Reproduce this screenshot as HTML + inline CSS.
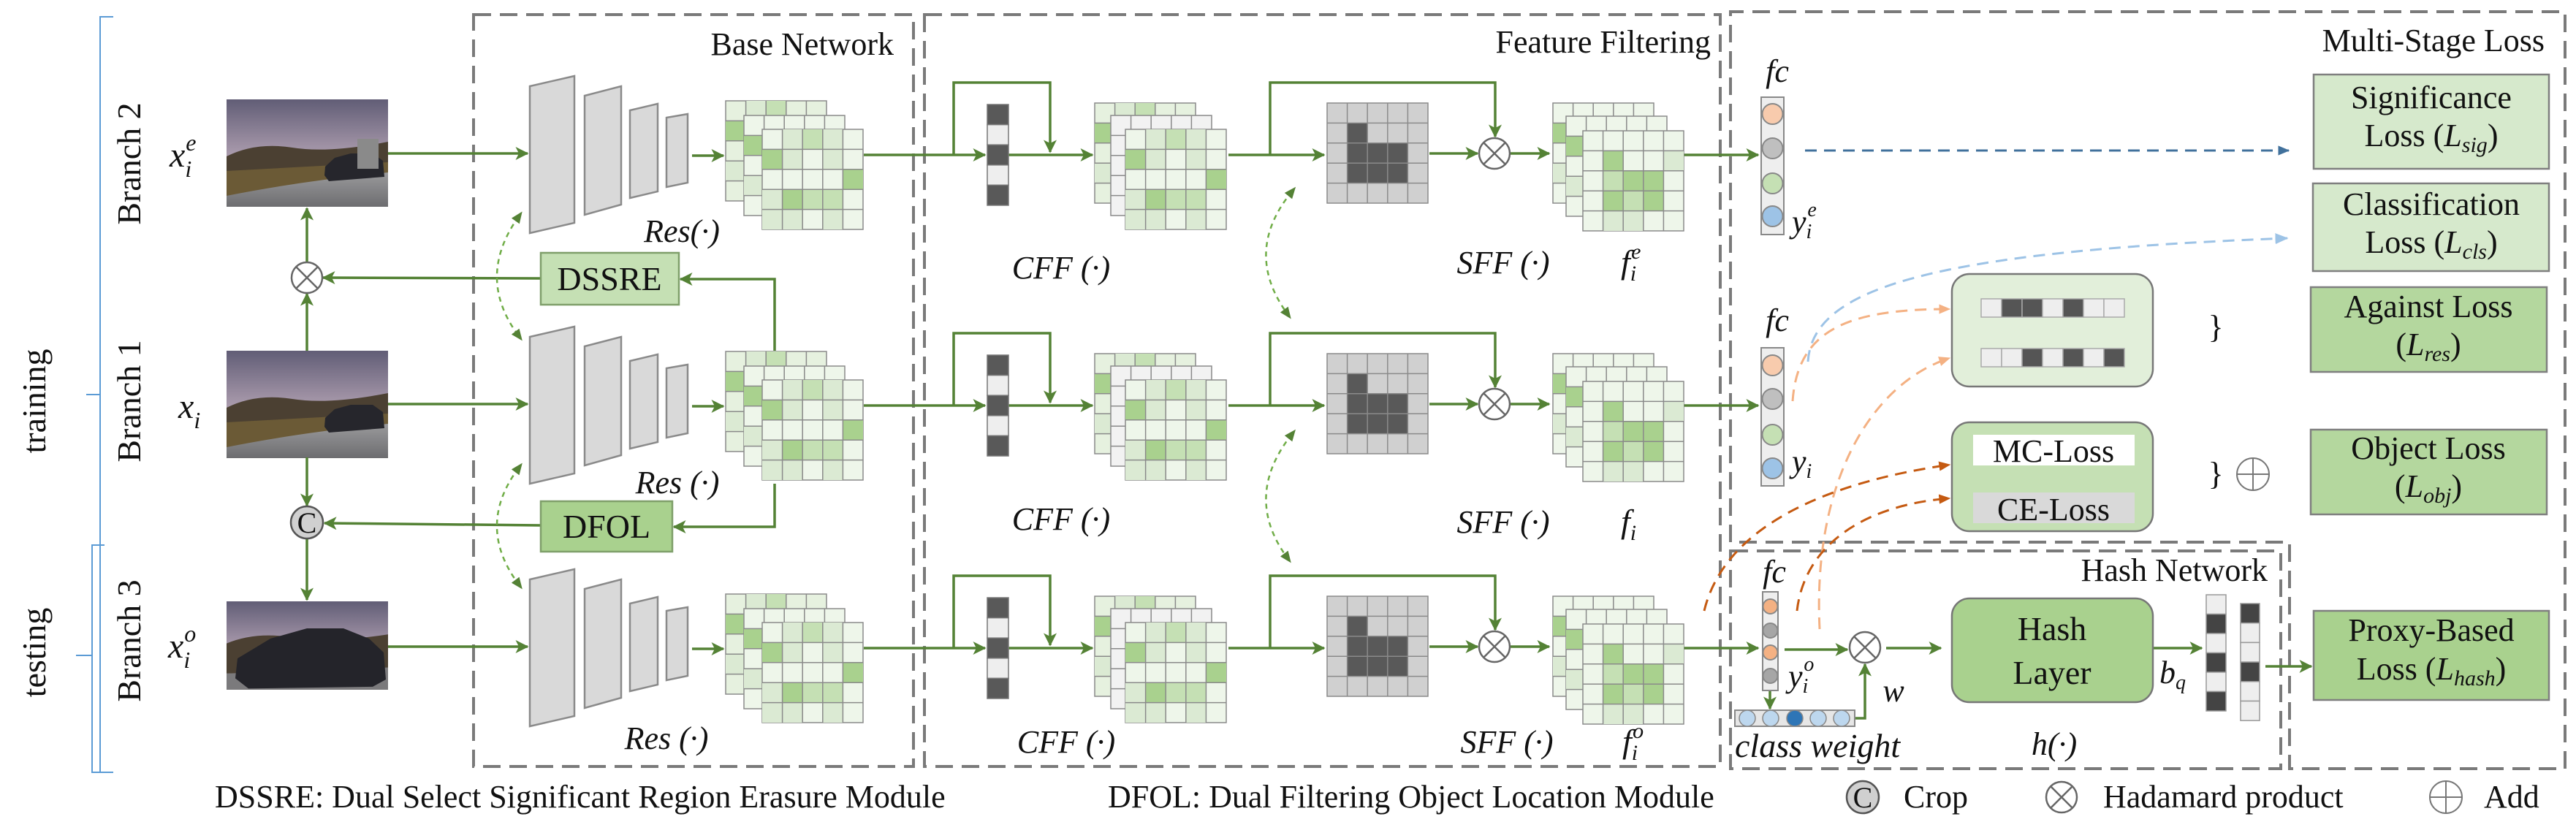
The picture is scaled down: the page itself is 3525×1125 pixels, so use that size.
<!DOCTYPE html>
<html><head><meta charset="utf-8"><style>
html,body{margin:0;padding:0;background:#fff}
svg{display:block;font-family:"Liberation Serif","Times New Roman",Times,serif}
svg text{font-family:"Liberation Serif","Times New Roman",Times,serif;fill:#111}
.it{font-style:italic}
</style></head><body>
<svg width="3525" height="1125" viewBox="0 0 3525 1125" xmlns="http://www.w3.org/2000/svg" font-family="Liberation Serif, Times New Roman, serif">
<defs>
<marker id="agl" viewBox="0 0 12 12" refX="11" refY="6" markerWidth="18" markerHeight="18" markerUnits="userSpaceOnUse" orient="auto"><path d="M0,0 L12,6 L0,12 L3,6z" fill="#548235"/></marker>
<marker id="ab" viewBox="0 0 12 12" refX="11" refY="6" markerWidth="16" markerHeight="16" markerUnits="userSpaceOnUse" orient="auto"><path d="M0,1 L12,6 L0,11z" fill="#41719c"/></marker>
<marker id="alb" viewBox="0 0 12 12" refX="11" refY="6" markerWidth="18" markerHeight="18" markerUnits="userSpaceOnUse" orient="auto"><path d="M0,1 L12,6 L0,11z" fill="#9dc3e6"/></marker>
<marker id="ao" viewBox="0 0 12 12" refX="11" refY="6" markerWidth="16" markerHeight="16" markerUnits="userSpaceOnUse" orient="auto"><path d="M0,1 L12,6 L0,11z" fill="#f4b183"/></marker>
<marker id="ado" viewBox="0 0 12 12" refX="11" refY="6" markerWidth="16" markerHeight="16" markerUnits="userSpaceOnUse" orient="auto"><path d="M0,1 L12,6 L0,11z" fill="#c55a11"/></marker>
<marker id="agd" viewBox="0 0 12 12" refX="6" refY="6" markerWidth="16" markerHeight="16" markerUnits="userSpaceOnUse" orient="auto-start-reverse"><path d="M0,1 L12,6 L0,11z" fill="#548235"/></marker>

<path id="gl" d="M27.6,0V137M55.2,0V137M82.8,0V137M110.4,0V137M0,27.4H138M0,54.8H138M0,82.2H138M0,109.6H138" stroke="#8a8a8a" stroke-width="1.5" fill="none"/>

<g id="gBackG"><rect width="138" height="137" fill="#e6f1df" stroke="#8a8a8a" stroke-width="1.5"/>
<rect x="27.6" y="0" width="27.6" height="27.4" fill="#dbead3"/><rect x="55.2" y="0" width="27.6" height="27.4" fill="#c5e0b4"/><rect x="0" y="27.4" width="27.6" height="27.4" fill="#a9d18e"/><rect x="0" y="82.2" width="27.6" height="27.4" fill="#dbead3"/><use href="#gl"/></g>
<g id="gMidG"><rect width="138" height="137" fill="#eef6ea" stroke="#8a8a8a" stroke-width="1.5"/><rect x="0" y="27.4" width="27.6" height="27.4" fill="#a9d18e"/><rect x="0" y="82.2" width="27.6" height="27.4" fill="#dbead3"/><use href="#gl"/></g>
<g id="gMidW"><rect width="138" height="137" fill="#f2f2f2" stroke="#8a8a8a" stroke-width="1.5"/><use href="#gl"/></g>
<g id="gFront"><rect width="138" height="137" fill="#eef6ea" stroke="#8a8a8a" stroke-width="1.5"/>
<rect x="27.6" y="0" width="27.6" height="27.4" fill="#dbead3"/><rect x="55.2" y="0" width="27.6" height="27.4" fill="#c5e0b4"/><rect x="82.8" y="0" width="27.6" height="27.4" fill="#dbead3"/>
<rect x="0" y="27.4" width="27.6" height="27.4" fill="#a9d18e"/><rect x="27.6" y="27.4" width="27.6" height="27.4" fill="#dbead3"/><rect x="82.8" y="27.4" width="27.6" height="27.4" fill="#dbead3"/>
<rect x="110.4" y="54.8" width="27.6" height="27.4" fill="#a9d18e"/>
<rect x="0" y="82.2" width="27.6" height="27.4" fill="#dbead3"/><rect x="27.6" y="82.2" width="27.6" height="27.4" fill="#a9d18e"/><rect x="55.2" y="82.2" width="27.6" height="27.4" fill="#c5e0b4"/><rect x="82.8" y="82.2" width="27.6" height="27.4" fill="#c5e0b4"/>
<rect x="0" y="109.6" width="27.6" height="27.4" fill="#dbead3"/><rect x="27.6" y="109.6" width="27.6" height="27.4" fill="#dbead3"/><rect x="82.8" y="109.6" width="27.6" height="27.4" fill="#dbead3"/>
<use href="#gl"/></g>
<g id="gOut"><rect width="138" height="137" fill="#eef6ea" stroke="#8a8a8a" stroke-width="1.5"/>
<rect x="27.6" y="27.4" width="27.6" height="27.4" fill="#a9d18e"/><rect x="110.4" y="27.4" width="27.6" height="27.4" fill="#dbead3"/>
<rect x="27.6" y="54.8" width="27.6" height="27.4" fill="#c5e0b4"/><rect x="55.2" y="54.8" width="55.2" height="27.4" fill="#a9d18e"/>
<rect x="27.6" y="82.2" width="27.6" height="27.4" fill="#a9d18e"/><rect x="55.2" y="82.2" width="27.6" height="27.4" fill="#c5e0b4"/><rect x="82.8" y="82.2" width="27.6" height="27.4" fill="#a9d18e"/>
<rect x="27.6" y="109.6" width="55.2" height="27.4" fill="#dbead3"/>
<use href="#gl"/></g>
<g id="gMask"><rect width="138" height="137" fill="#d0d0d0" stroke="#8a8a8a" stroke-width="1.5"/>
<rect x="27.6" y="27.4" width="27.6" height="27.4" fill="#595959"/><rect x="27.6" y="54.8" width="82.8" height="54.8" fill="#595959"/>
<use href="#gl"/></g>

<g id="otimes"><circle r="21" fill="#fff" stroke="#666" stroke-width="2.5"/><path d="M-14.8,-14.8L14.8,14.8M14.8,-14.8L-14.8,14.8" stroke="#666" stroke-width="2.5"/></g>

<g id="row">
<line x1="531" y1="210" x2="722" y2="210" stroke="#548235" stroke-width="3.5" marker-end="url(#agl)"/>
<g fill="#d9d9d9" stroke="#8a8a8a" stroke-width="2.5">
<polygon points="725,118 786,104 786,305 725,319"/>
<polygon points="800,131 850,118 850,280 800,294"/>
<polygon points="862,151 900,142 900,262 862,271"/>
<polygon points="912,161 941,156 941,250 912,256"/>
</g>
<line x1="947" y1="213" x2="990" y2="213" stroke="#548235" stroke-width="3.5" marker-end="url(#agl)"/>
<use href="#gBackG" x="993" y="138"/><use href="#gMidG" x="1018" y="158"/><use href="#gFront" x="1043" y="177"/>
<g stroke="#548235" stroke-width="3.5" fill="none">
<line x1="1182" y1="212" x2="1348" y2="212" marker-end="url(#agl)"/>
<polyline points="1305,212 1305,113 1437,113 1437,208" marker-end="url(#agl)"/>
<line x1="1380" y1="212" x2="1495" y2="212" marker-end="url(#agl)"/>
<line x1="1681" y1="212" x2="1812" y2="212" marker-end="url(#agl)"/>
<polyline points="1738,212 1738,113 2046,113 2046,187" marker-end="url(#agl)"/>
<line x1="1956" y1="210" x2="2022" y2="210" marker-end="url(#agl)"/>
<line x1="2067" y1="210" x2="2120" y2="210" marker-end="url(#agl)"/>
<line x1="2303" y1="212" x2="2406" y2="212" marker-end="url(#agl)"/>
</g>
<g stroke="#777" stroke-width="1.5"><rect x="1351" y="143" width="29" height="27.6" fill="#595959"/><rect x="1351" y="170.6" width="29" height="27.6" fill="#eeeeee"/><rect x="1351" y="198.2" width="29" height="27.6" fill="#595959"/><rect x="1351" y="225.8" width="29" height="27.6" fill="#eeeeee"/><rect x="1351" y="253.4" width="29" height="27.6" fill="#595959"/></g>
<use href="#gBackG" x="1498" y="141"/><use href="#gMidW" x="1520" y="158"/><use href="#gFront" x="1540" y="177"/>
<use href="#gMask" x="1816" y="141"/>
<use href="#otimes" x="2045" y="210"/>
<use href="#gMidG" x="2125" y="141"/><use href="#gMidG" x="2143" y="159"/><use href="#gOut" x="2166" y="179"/>
</g>

<linearGradient id="sky" x1="0" y1="0" x2="0" y2="1"><stop offset="0" stop-color="#615d76"/><stop offset="0.5" stop-color="#a899ab"/><stop offset="1" stop-color="#b9aab5"/></linearGradient>
<linearGradient id="road" x1="0" y1="0" x2="0" y2="1"><stop offset="0" stop-color="#9a9a9c"/><stop offset="1" stop-color="#6d6d70"/></linearGradient>
<g id="photo">
<rect width="221" height="147" fill="url(#sky)"/>
<path d="M0,78 Q40,58 90,66 T221,58 L221,110 L0,112z" fill="#4b4032"/>
<path d="M0,98 L221,86 L221,112 L0,140z" fill="#6b5a36"/>
<path d="M0,147 L0,132 Q100,112 221,100 L221,147z" fill="url(#road)"/>
<path d="M135,92 L148,80 L170,74 L200,74 L214,84 L216,106 L140,112 L134,104z" fill="#26262c"/>
</g>
</defs>

<!-- braces -->
<path d="M155,23 H137 V1057 H155 M137,540 H118" stroke="#5b9bd5" stroke-width="2" fill="none"/>
<path d="M143,746 H126 V1057 H143 M126,897 H104" stroke="#5b9bd5" stroke-width="2" fill="none"/>
<text font-size="46" transform="translate(62,549) rotate(-90)" text-anchor="middle">training</text>
<text font-size="46" transform="translate(62,893) rotate(-90)" text-anchor="middle">testing</text>
<text font-size="46" transform="translate(192,224) rotate(-90)" text-anchor="middle">Branch 2</text>
<text font-size="46" transform="translate(192,549) rotate(-90)" text-anchor="middle">Branch 1</text>
<text font-size="46" transform="translate(192,877) rotate(-90)" text-anchor="middle">Branch 3</text>

<!-- dashed boxes -->
<g stroke="#7a7a7a" stroke-width="4" stroke-dasharray="24 12" fill="none">
<rect x="648" y="20" width="602" height="1029"/>
<rect x="1265" y="20" width="1089" height="1029"/>
<path d="M2368,742 V16 H3510 V1052 H3133 V742 H2368"/>
<rect x="2368" y="754" width="753" height="298"/>
</g>
<text font-size="44" x="1223" y="75" text-anchor="end">Base Network</text>
<text font-size="44" x="2341" y="72" text-anchor="end">Feature Filtering</text>
<text font-size="44" x="3482" y="70" text-anchor="end">Multi-Stage Loss</text>

<!-- photos -->
<use href="#photo" x="310" y="136"/>
<rect x="489" y="190" width="29" height="41" fill="#8a8a8a"/>
<use href="#photo" x="310" y="480"/>
<g transform="translate(310,823) scale(1,0.823)">
<rect width="221" height="147" fill="url(#sky)"/>
<path d="M0,70 Q40,50 90,60 T221,55 L221,120 L0,120z" fill="#4b4032"/>
<path d="M0,147 L0,120 L221,110 L221,147z" fill="#7b7a7c"/>
<path d="M15,95 L60,62 L110,45 L160,45 L195,62 L215,85 L218,130 L200,142 L30,145 L12,128z" fill="#24242a"/>
</g>
<text class="it" font-size="48" x="232" y="228">x<tspan font-size="32" dy="14">i</tspan><tspan font-size="32" dx="-8" dy="-36">e</tspan></text>
<text class="it" font-size="48" x="244" y="572">x<tspan font-size="32" dy="14">i</tspan></text>
<text class="it" font-size="48" x="230" y="900">x<tspan font-size="32" dy="14">i</tspan><tspan font-size="32" dx="-8" dy="-36">o</tspan></text>

<!-- rows -->
<use href="#row"/>
<use href="#row" y="343"/>
<use href="#row" y="675"/>

<!-- branch vertical flows -->
<g stroke="#548235" stroke-width="3.5" fill="none">
<line x1="420" y1="480" x2="420" y2="402" marker-end="url(#agl)"/>
<line x1="420" y1="359" x2="420" y2="285" marker-end="url(#agl)"/>
<line x1="420" y1="626" x2="420" y2="692" marker-end="url(#agl)"/>
<line x1="420" y1="738" x2="420" y2="821" marker-end="url(#agl)"/>
<line x1="740" y1="381" x2="442" y2="380" marker-end="url(#agl)"/>
<line x1="740" y1="719" x2="444" y2="716" marker-end="url(#agl)"/>
<polyline points="1060,480 1060,382 931,382" marker-end="url(#agl)"/>
<polyline points="1060,662 1060,721 922,721" marker-end="url(#agl)"/>
</g>
<use href="#otimes" x="420" y="380"/>
<circle cx="420" cy="715" r="22" fill="#d0d0d0" stroke="#555" stroke-width="2.5"/>
<text font-size="40" x="420" y="729" text-anchor="middle">C</text>
<rect x="740" y="346" width="189" height="71" fill="#c5e0b4" stroke="#7f9f6a" stroke-width="2.5"/>
<text font-size="46" x="834" y="397" text-anchor="middle">DSSRE</text>
<rect x="740" y="686" width="180" height="69" fill="#a9d18e" stroke="#7f9f6a" stroke-width="2.5"/>
<text font-size="46" x="830" y="736" text-anchor="middle">DFOL</text>

<!-- dotted curved arrows -->
<g stroke="#70ad47" stroke-width="2.5" stroke-dasharray="7 6" fill="none">
<path d="M710,296 Q650,380 710,460" marker-start="url(#agd)" marker-end="url(#agd)"/>
<path d="M710,640 Q650,720 710,800" marker-start="url(#agd)" marker-end="url(#agd)"/>
<path d="M1768,262 Q1700,345 1762,430" marker-start="url(#agd)" marker-end="url(#agd)"/>
<path d="M1768,594 Q1700,680 1762,764" marker-start="url(#agd)" marker-end="url(#agd)"/>
</g>

<!-- row labels -->
<g font-size="44" text-anchor="middle" font-style="italic">
<text x="933" y="331" class="it">Res(·)</text>
<text x="927" y="675" class="it">Res (·)</text>
<text x="912" y="1025" class="it">Res (·)</text>
<text x="1452" y="381" class="it">CFF (·)</text>
<text x="1452" y="725" class="it">CFF (·)</text>
<text x="1459" y="1030" class="it">CFF (·)</text>
<text x="2057" y="374" class="it">SFF (·)</text>
<text x="2057" y="729" class="it">SFF (·)</text>
<text x="2062" y="1030" class="it">SFF (·)</text>
</g>
<text class="it" font-size="46" x="2218" y="374">f<tspan font-size="30" dy="10">i</tspan><tspan font-size="30" dx="-7" dy="-30">e</tspan></text>
<text class="it" font-size="46" x="2218" y="729">f<tspan font-size="30" dy="10">i</tspan></text>
<text class="it" font-size="46" x="2220" y="1030">f<tspan font-size="30" dy="10">i</tspan><tspan font-size="30" dx="-7" dy="-30">o</tspan></text>

<!-- fc columns -->
<text class="it" font-size="44" x="2432" y="112" text-anchor="middle">fc</text>
<rect x="2410" y="133" width="31" height="188" fill="#eeeeee" stroke="#888" stroke-width="2"/>
<g stroke="#888" stroke-width="2"><circle cx="2425.5" cy="156" r="14" fill="#f8cbad"/><circle cx="2425.5" cy="203" r="14" fill="#bfbfbf"/><circle cx="2425.5" cy="251" r="14" fill="#c5e0b4"/><circle cx="2425.5" cy="296" r="14" fill="#9dc3e6"/></g>
<text class="it" font-size="44" x="2452" y="318">y<tspan font-size="28" dy="8">i</tspan><tspan font-size="28" dx="-6" dy="-30">e</tspan></text>
<text class="it" font-size="44" x="2432" y="453" text-anchor="middle">fc</text>
<rect x="2410" y="476" width="31" height="189" fill="#eeeeee" stroke="#888" stroke-width="2"/>
<g stroke="#888" stroke-width="2"><circle cx="2425.5" cy="500" r="14" fill="#f8cbad"/><circle cx="2425.5" cy="546" r="14" fill="#bfbfbf"/><circle cx="2425.5" cy="595" r="14" fill="#c5e0b4"/><circle cx="2425.5" cy="641" r="14" fill="#9dc3e6"/></g>
<text class="it" font-size="44" x="2452" y="646">y<tspan font-size="28" dy="8">i</tspan></text>

<!-- loss boxes -->
<g stroke="#7f7f7f" stroke-width="2.5">
<rect x="3166" y="102" width="322" height="129" fill="#d6e9cc"/>
<rect x="3165" y="251" width="323" height="120" fill="#d6e9cc"/>
<rect x="3162" y="393" width="323" height="116" fill="#b4d79e"/>
<rect x="3162" y="588" width="323" height="116" fill="#b4d79e"/>
<rect x="3166" y="836" width="322" height="122" fill="#a9d18e"/>
</g>
<g font-size="44" text-anchor="middle">
<text x="3327" y="148">Significance</text>
<text x="3327" y="200">Loss (<tspan class="it">L</tspan><tspan class="it" font-size="30" dy="8">sig</tspan><tspan dy="-8">)</tspan></text>
<text x="3327" y="294">Classification</text>
<text x="3327" y="346">Loss (<tspan class="it">L</tspan><tspan class="it" font-size="30" dy="8">cls</tspan><tspan dy="-8">)</tspan></text>
<text x="3323" y="434">Against Loss</text>
<text x="3323" y="486">(<tspan class="it">L</tspan><tspan class="it" font-size="30" dy="8">res</tspan><tspan dy="-8">)</tspan></text>
<text x="3323" y="628">Object Loss</text>
<text x="3323" y="680">(<tspan class="it">L</tspan><tspan class="it" font-size="30" dy="8">obj</tspan><tspan dy="-8">)</tspan></text>
<text x="3327" y="877">Proxy-Based</text>
<text x="3327" y="930">Loss (<tspan class="it">L</tspan><tspan class="it" font-size="30" dy="8">hash</tspan><tspan dy="-8">)</tspan></text>
</g>

<!-- middle loss modules -->
<rect x="2671" y="375" width="275" height="154" rx="24" fill="#e2efda" stroke="#777" stroke-width="2.5"/>
<g stroke="#aaa" stroke-width="1.5">
<rect x="2711" y="409" width="28" height="25" fill="#eee"/><rect x="2739" y="409" width="28" height="25" fill="#555"/><rect x="2767" y="409" width="28" height="25" fill="#555"/><rect x="2795" y="409" width="28" height="25" fill="#eee"/><rect x="2823" y="409" width="28" height="25" fill="#555"/><rect x="2851" y="409" width="28" height="25" fill="#eee"/><rect x="2879" y="409" width="28" height="25" fill="#eee"/>
<rect x="2711" y="477" width="28" height="25" fill="#eee"/><rect x="2739" y="477" width="28" height="25" fill="#eee"/><rect x="2767" y="477" width="28" height="25" fill="#555"/><rect x="2795" y="477" width="28" height="25" fill="#eee"/><rect x="2823" y="477" width="28" height="25" fill="#555"/><rect x="2851" y="477" width="28" height="25" fill="#eee"/><rect x="2879" y="477" width="28" height="25" fill="#555"/>
</g>
<rect x="2671" y="578" width="275" height="149" rx="24" fill="#c5e0b4" stroke="#777" stroke-width="2.5"/>
<rect x="2700" y="595" width="221" height="42" fill="#fff"/>
<rect x="2700" y="674" width="221" height="42" fill="#d9d9d9"/>
<text font-size="44" x="2810" y="632" text-anchor="middle">MC-Loss</text>
<text font-size="44" x="2810" y="712" text-anchor="middle">CE-Loss</text>
<text font-size="44" x="3032" y="462" text-anchor="middle">}</text>
<text font-size="44" x="3032" y="663" text-anchor="middle">}</text>
<g stroke="#777" stroke-width="2" fill="none"><circle cx="3083" cy="649" r="22"/><path d="M3061,649H3105M3083,627V671"/></g>

<!-- dashed loss connectors -->
<g fill="none" stroke-width="3" stroke-dasharray="16 10">
<line x1="2470" y1="206" x2="3132" y2="206" stroke="#41719c" marker-end="url(#ab)"/>
<path d="M2474,495 C2480,400 2620,345 3130,326" stroke="#9dc3e6" marker-end="url(#alb)"/>
<path d="M2453,549 C2460,450 2530,423 2668,423" stroke="#f4b183" marker-end="url(#ao)"/>
<path d="M2490,861 C2480,660 2560,525 2668,490" stroke="#f4b183" marker-end="url(#ao)"/>
<path d="M2332,836 C2360,720 2500,660 2668,636" stroke="#c55a11" marker-end="url(#ado)"/>
<path d="M2459,836 C2470,740 2560,690 2668,682" stroke="#c55a11" marker-end="url(#ado)"/>
</g>

<!-- hash network -->
<text font-size="44" x="3103" y="795" text-anchor="end">Hash Network</text>
<text class="it" font-size="44" x="2428" y="797" text-anchor="middle">fc</text>
<rect x="2412" y="810" width="21" height="135" fill="#eeeeee" stroke="#888" stroke-width="2"/>
<g stroke="#888" stroke-width="2"><circle cx="2422.5" cy="830" r="10" fill="#f4b183"/><circle cx="2422.5" cy="863" r="10" fill="#a6a6a6"/><circle cx="2422.5" cy="893" r="10" fill="#f4b183"/><circle cx="2422.5" cy="925" r="10" fill="#a6a6a6"/></g>
<text class="it" font-size="44" x="2447" y="940">y<tspan font-size="28" dy="8">i</tspan><tspan font-size="28" dx="-6" dy="-30">o</tspan></text>
<g stroke="#548235" stroke-width="3.5" fill="none">
<line x1="2442" y1="889" x2="2528" y2="889" marker-end="url(#agl)"/>
<line x1="2422" y1="946" x2="2422" y2="970" marker-end="url(#agl)"/>
<polyline points="2538,983 2552,983 2552,909" marker-end="url(#agl)"/>
<line x1="2581" y1="887" x2="2656" y2="887" marker-end="url(#agl)"/>
<line x1="2946" y1="887" x2="3013" y2="887" marker-end="url(#agl)"/>
<line x1="3100" y1="912" x2="3163" y2="912" marker-end="url(#agl)"/>
</g>
<use href="#otimes" x="2552" y="886"/>
<rect x="2374" y="972" width="164" height="22" fill="#e6e6e6" stroke="#888" stroke-width="2"/>
<g stroke="#888" stroke-width="1.5"><circle cx="2391" cy="983" r="11" fill="#bdd7ee"/><circle cx="2423" cy="983" r="11" fill="#bdd7ee"/><circle cx="2456" cy="983" r="11" fill="#2e75b6"/><circle cx="2488" cy="983" r="11" fill="#bdd7ee"/><circle cx="2520" cy="983" r="11" fill="#bdd7ee"/></g>
<text class="it" font-size="44" x="2591" y="960" text-anchor="middle">w</text>
<text class="it" font-size="46" x="2374" y="1036">class weight</text>
<rect x="2671" y="819" width="275" height="142" rx="24" fill="#a9d18e" stroke="#777" stroke-width="2.5"/>
<text font-size="46" x="2808" y="876" text-anchor="middle">Hash</text>
<text font-size="46" x="2808" y="936" text-anchor="middle">Layer</text>
<text class="it" font-size="44" x="2955" y="935">b<tspan font-size="28" dy="8">q</tspan></text>
<g stroke="#999" stroke-width="1.5">
<rect x="3019" y="814" width="27" height="26.5" fill="#eee"/><rect x="3019" y="840.5" width="27" height="26.5" fill="#444"/><rect x="3019" y="867" width="27" height="26.5" fill="#eee"/><rect x="3019" y="893.5" width="27" height="26.5" fill="#444"/><rect x="3019" y="920" width="27" height="26.5" fill="#eee"/><rect x="3019" y="946.5" width="27" height="26.5" fill="#444"/>
<rect x="3066" y="826" width="26" height="26.7" fill="#444"/><rect x="3066" y="852.7" width="26" height="26.7" fill="#eee"/><rect x="3066" y="879.4" width="26" height="26.7" fill="#eee"/><rect x="3066" y="906.1" width="26" height="26.7" fill="#444"/><rect x="3066" y="932.8" width="26" height="26.7" fill="#eee"/><rect x="3066" y="959.5" width="26" height="26.7" fill="#eee"/>
</g>
<text class="it" font-size="44" x="2811" y="1033" text-anchor="middle">h(·)</text>

<!-- legend -->
<text font-size="44" x="294" y="1105">DSSRE: Dual Select Significant Region Erasure Module</text>
<text font-size="44" x="1516" y="1105">DFOL: Dual Filtering Object Location Module</text>
<circle cx="2549" cy="1091" r="22" fill="#d0d0d0" stroke="#555" stroke-width="2.5"/>
<text font-size="40" x="2549" y="1105" text-anchor="middle">C</text>
<text font-size="44" x="2605" y="1105">Crop</text>
<use href="#otimes" x="2821" y="1091"/>
<text font-size="44" x="2878" y="1105">Hadamard product</text>
<g stroke="#777" stroke-width="2" fill="none"><circle cx="3347" cy="1091" r="22"/><path d="M3325,1091H3369M3347,1069V1113"/></g>
<text font-size="44" x="3399" y="1105">Add</text>
</svg>
</body></html>
